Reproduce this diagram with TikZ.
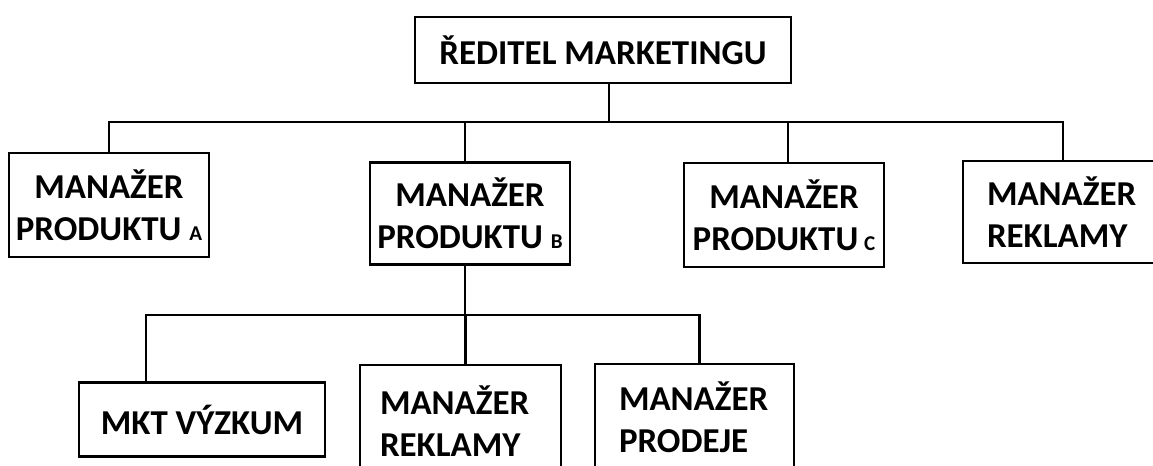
\documentclass[tikz,border=0pt]{standalone}
\usepackage{fontspec}
\setmainfont{Carlito}[BoldFont={Carlito Bold}]
\begin{document}
\begin{tikzpicture}[x=0.75pt,y=-0.75pt,
  unit/.style={draw=black,line width=2.2pt,rectangle,inner sep=0pt,
    font=\bfseries\fontsize{26.2}{31.5}\selectfont},
  ctr/.style={unit,align=center},
  lft/.style={unit,align=left},
  link/.style={line width=2.2pt,line cap=rect}]
\newcommand{\sub}[1]{{\fontsize{15.8}{15.8}\selectfont #1}}
\useasboundingbox (0,0) rectangle (1153,465);
\clip (0,0) rectangle (1153,465);

% head of marketing
\node[ctr,minimum width=282pt,minimum height=49.5pt] (ceo) at (603,50) {ŘEDITEL MARKETINGU};

% product and advertising managers
\node[ctr,minimum width=150pt,minimum height=78pt] (pa) at (109,205) {MANAŽER\\PRODUKTU \sub{A}};
\node[ctr,minimum width=150pt,minimum height=77pt] (pb) at (470,213.5) {MANAŽER\\PRODUKTU \sub{B}};
\node[ctr,minimum width=150pt,minimum height=78pt] (pc) at (784,215) {MANAŽER\\PRODUKTU\,\sub{C}};
\node[lft,inner xsep=18pt,text width=114pt,minimum height=76.5pt] (adv) at (1063,212) {MANAŽER\\REKLAMY};

% units under product B
\node[ctr,minimum width=184.5pt,minimum height=56pt] (mkt) at (202,419.5) {MKT VÝZKUM};
\node[lft,inner xsep=15pt,text width=120.75pt,minimum height=84pt] (adv2) at (460.5,421) {MANAŽER\\REKLAMY};
\node[lft,inner xsep=18pt,text width=113.25pt,minimum height=79.5pt] (sales) at (694.5,417) {MANAŽER\\PRODEJE};

% bus lines
\coordinate (bus1) at (0,122);
\coordinate (bus2) at (0,315);
\coordinate (mktin) at ([xshift=-42pt]mkt.north);

% first level
\draw[link] ([xshift=4.5pt]ceo.south) -- ([xshift=4.5pt]ceo.south |- bus1);
\draw[link] (pa.north) -- (pa.north |- bus1) -- (adv.north |- bus1) -- (adv.north);
\draw[link] ([xshift=-3.75pt]pb.north) -- ([xshift=-3.75pt]pb.north |- bus1);
\draw[link] ([xshift=3pt]pc.north) -- ([xshift=3pt]pc.north |- bus1);

% second level
\draw[link] ([xshift=-3.75pt]pb.south) -- ([xshift=-3.75pt]pb.south |- bus2);
\draw[link] (mktin) -- (mktin |- bus2) -- ([xshift=3.5pt]sales.north |- bus2) -- ([xshift=3.5pt]sales.north);
\draw[link] ([xshift=3.4pt]adv2.north) -- ([xshift=3.4pt]adv2.north |- bus2);
\end{tikzpicture}
\end{document}
